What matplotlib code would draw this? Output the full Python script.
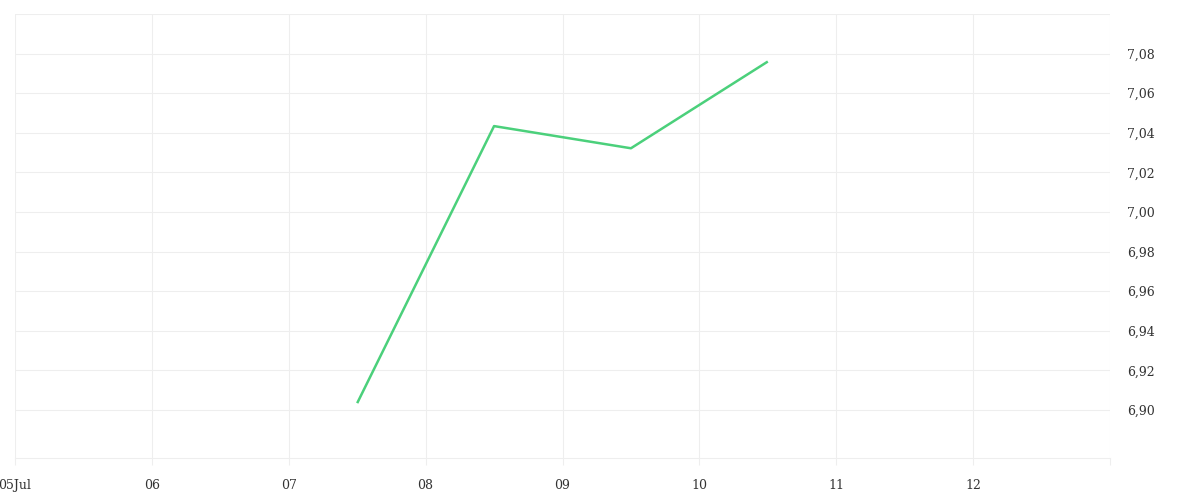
import matplotlib.pyplot as plt
import matplotlib.dates as mdates
import matplotlib.ticker as mticker
import pandas as pd

# data
dates = pd.to_datetime(["2023-07-07 12:00", "2023-07-08 12:00",
                        "2023-07-09 12:00", "2023-07-10 12:00"])
values = [6.9035, 7.0434, 7.0322, 7.0760]

yticks = [6.90, 6.92, 6.94, 6.96, 6.98, 7.00, 7.02, 7.04, 7.06, 7.08, 7.10]

grid_col = "#eeeeee"
line_col = "#4bd07b"

plt.rcParams["font.family"] = ["DejaVu Serif"]

fig = plt.figure(figsize=(12, 5), dpi=100)
ax = fig.add_axes([15 / 1200, 42 / 500, 1095 / 1200, 444 / 500])

ax.plot(dates, values, color=line_col, linewidth=1.8, solid_capstyle="butt")

ax.set_xlim(pd.Timestamp("2023-07-05"), pd.Timestamp("2023-07-13"))
ax.set_ylim(6.8758, 7.10)

ax.xaxis.set_major_locator(mdates.DayLocator())
def fmt_day(x, pos):
    d = mdates.num2date(x)
    if d.day == 13:
        return ""
    if d.day == 5:
        return d.strftime("%d%b")
    return d.strftime("%d")
ax.xaxis.set_major_formatter(mticker.FuncFormatter(fmt_day))

ax.yaxis.tick_right()
ax.set_yticks(yticks)
ax.set_yticklabels([("%.2f" % v).replace(".", ",") if v < 7.09 else "" for v in yticks])

ax.grid(True, color=grid_col, linewidth=0.8)
for s in ["top", "left", "right"]:
    ax.spines[s].set_visible(False)
ax.spines["bottom"].set_color(grid_col)
ax.spines["bottom"].set_linewidth(0.8)

ax.tick_params(axis="x", length=5, width=0.8, color=grid_col, labelsize=9, labelcolor="#333333", pad=10)
ax.tick_params(axis="y", length=0, labelsize=9, labelcolor="#333333", pad=12)

fig.savefig("out.png", dpi=100)
